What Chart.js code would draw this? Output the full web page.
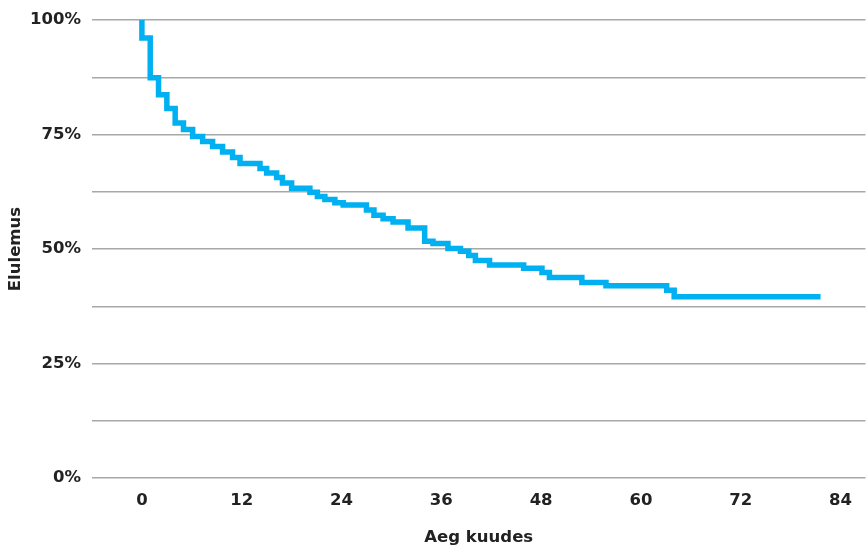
<!DOCTYPE html>
<html>
<head>
<meta charset="utf-8">
<script src="https://cdn.jsdelivr.net/npm/chart.js@4"></script>
<style>
  html, body { margin: 0; padding: 0; background: #fff; }
  #wrap { width: 866px; height: 551px; position: relative; }
</style>
</head>
<body>
<div id="wrap"><canvas id="survivalChart"></canvas></div>
<script>
// Kaplan-Meier style survival curve (months, percent)
const months = [0, 0, 1, 2, 3, 4, 5, 6.1, 7.3, 8.5, 9.7, 10.9, 11.8, 14.2, 15, 16.2, 16.9, 18, 20.2, 21.1,
  22, 23.2, 24.2, 27, 27.9, 29, 30.2, 32, 34, 35, 36.8, 38.3, 39.3, 40.1, 41.8, 45.9, 48.1, 49, 52.9, 55.8,
  63.1, 64, 81.6];
const survival = [100, 96.1, 87.4, 83.7, 80.7, 77.5, 76.1, 74.6, 73.5, 72.4, 71.2, 70.0, 68.7, 67.6, 66.6, 65.6, 64.4, 63.3, 62.4, 61.5,
  60.8, 60.1, 59.6, 58.5, 57.4, 56.6, 55.9, 54.6, 51.7, 51.2, 50.1, 49.5, 48.6, 47.5, 46.5, 45.8, 44.9, 43.8, 42.7, 42.0,
  41.0, 39.6, 39.6];
const xTicks = [0, 12, 24, 36, 48, 60, 72, 84];
const yLabels = [0, 25, 50, 75, 100];

const textColor = '#222';
const tickFont = { family: 'DejaVu Sans', size: 16.5, weight: 'bold', lineHeight: 1.1 };
const titleFont = { family: 'DejaVu Sans', size: 16.5, weight: 'bold' };

const ctx = document.getElementById('survivalChart').getContext('2d');
new Chart(ctx, {
    type: 'line',
    data: {
        datasets: [{
            label: 'Elulemus',
            data: months.map((m, i) => ({ x: m, y: survival[i] })),
            stepped: 'before',
            borderColor: '#00b0f0',
            borderWidth: 5.5,
            pointRadius: 0,
            fill: false
        }]
    },
    options: {
        responsive: true,
        maintainAspectRatio: false,
        animation: false,
        layout: { padding: { top: 0, right: 0, left: 0, bottom: 0 } },
        plugins: { legend: { display: false }, tooltip: { enabled: false } },
        scales: {
            x: {
                type: 'linear',
                min: -6,
                max: 87,
                afterBuildTicks: (axis) => { axis.ticks = xTicks.map(v => ({ value: v })); },
                afterFit: (axis) => { axis.height = 73; },
                grid: { display: false, drawTicks: false },
                border: { display: false },
                ticks: { color: textColor, font: tickFont, padding: 14, maxRotation: 0 },
                title: { display: true, text: 'Aeg kuudes', color: textColor, font: titleFont, padding: { top: 4, bottom: 3 } }
            },
            y: {
                min: 0,
                max: 100,
                afterFit: (axis) => { axis.width = 92; },
                grid: { color: '#a8a8a8', lineWidth: 1.5, drawTicks: false },
                border: { display: false },
                ticks: {
                    stepSize: 12.5,
                    color: textColor,
                    font: tickFont,
                    padding: 11,
                    callback: (v) => yLabels.includes(v) ? v + '%' : ''
                },
                title: { display: true, text: 'Elulemus', color: textColor, font: titleFont, padding: { top: 6, bottom: 4 } }
            }
        }
    }
});
</script>
</body>
</html>
